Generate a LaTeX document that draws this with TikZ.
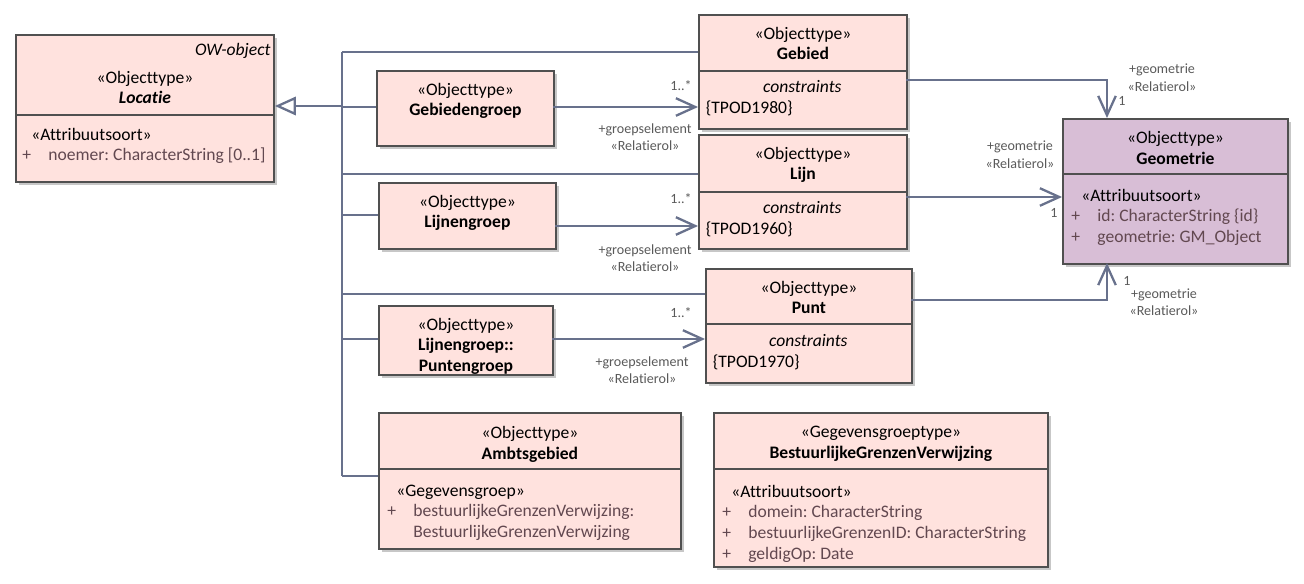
\documentclass[tikz,border=0pt]{standalone}
\usepackage{fontspec}
\setmainfont{Carlito}[Ligatures=NoCommon]
\usetikzlibrary{arrows.meta, shadows, positioning}

\definecolor{boxline}{RGB}{80,80,80}
\definecolor{pinkfill}{RGB}{255,226,222}
\definecolor{purplefill}{RGB}{216,190,214}
\definecolor{connline}{RGB}{104,113,140}
\definecolor{attrtext}{RGB}{98,72,80}
\definecolor{labeltext}{RGB}{90,90,90}

\newcommand{\attr}[1]{\textcolor{attrtext}{\makebox[0.52cm][l]{+}\mbox{#1}}}

\begin{document}
\frenchspacing
\begin{tikzpicture}[x=0.02cm, y=-0.02cm,
    % Styles
    classbox/.style={
        rectangle, draw=boxline, fill=pinkfill,
        line width=1.1pt, anchor=north west, inner sep=0pt,
        drop shadow={shadow xshift=0.06cm, shadow yshift=-0.06cm, fill=black!22, opacity=1}
    },
    txt/.style={
        inner sep=0pt, anchor=north, align=center,
        font=\fontsize{10}{11.8}\selectfont,
        execute at begin node=\strut
    },
    attrtxt/.style={txt, anchor=north west, align=left},
    conn/.style={line width=1.3pt, color=connline},
    assoc/.style={conn, -{Straight Barb[length=11pt, width=10pt]}},
    gen/.style={conn, -{Triangle[length=12pt, width=10.5pt, fill=white]}},
    lbl/.style={font=\fontsize{8}{10}\selectfont, text=labeltext, align=center, inner sep=0pt},
]
\useasboundingbox (0,0) rectangle (1304,584);

% Locatie
\node[classbox, minimum width=5.16cm, minimum height=1.6cm] (locatie) at (15,34) {};
\node[classbox, minimum width=5.16cm, minimum height=1.34cm] (locatieC) at (15,114) {};
\node[txt, anchor=north east, below left=0.13cm and 0.08cm of locatie.north east] (owobject) {\textit{OW-object}};
\node[txt, below=0.73cm of locatie.north] (locatieT) {«Objecttype»\\\textbf{\textit{Locatie}}};
\node[attrtxt, below right=0.27cm and 0.14cm of locatieC.north west] (locatieA)
    {\hspace*{0.18cm}«Attribuutsoort»\\\attr{noemer: CharacterString [0..1]}};

% Gebied, Lijn, Punt
\node[classbox, minimum width=4.16cm, minimum height=1.12cm] (gebied) at (698,14) {};
\node[classbox, minimum width=4.16cm, minimum height=1.16cm] (gebiedC) at (698,70) {};
\node[txt, below=0.25cm of gebied.north] (gebiedT) {«Objecttype»\\\textbf{Gebied}};
\node[attrtxt, text width=3.86cm, below right=0.16cm and 0.15cm of gebiedC.north west] (gebiedA)
    {\makebox[\hsize]{\textit{constraints}}\\\{TPOD1980\}};

\node[classbox, minimum width=4.16cm, minimum height=1.14cm] (lijn) at (698,134) {};
\node[classbox, minimum width=4.16cm, minimum height=1.14cm] (lijnC) at (698,191) {};
\node[txt, below=0.25cm of lijn.north] (lijnT) {«Objecttype»\\\textbf{Lijn}};
\node[attrtxt, text width=3.86cm, below right=0.16cm and 0.15cm of lijnC.north west] (lijnA)
    {\makebox[\hsize]{\textit{constraints}}\\\{TPOD1960\}};

\node[classbox, minimum width=4.12cm, minimum height=1.1cm] (punt) at (705,268) {};
\node[classbox, minimum width=4.12cm, minimum height=1.18cm] (puntC) at (705,323) {};
\node[txt, below=0.25cm of punt.north] (puntT) {«Objecttype»\\\textbf{Punt}};
\node[attrtxt, text width=3.82cm, below right=0.17cm and 0.15cm of puntC.north west] (puntA)
    {\makebox[\hsize]{\textit{constraints}}\\\{TPOD1970\}};

% Groepen
\node[classbox, minimum width=3.54cm, minimum height=1.5cm] (gebiedengroep) at (376,70) {};
\node[txt, below=0.25cm of gebiedengroep.north] (gebiedengroepT) {«Objecttype»\\\textbf{Gebiedengroep}};
\node[classbox, minimum width=3.54cm, minimum height=1.32cm] (lijnengroep) at (378,182) {};
\node[txt, below=0.25cm of lijnengroep.north] (lijnengroepT) {«Objecttype»\\\textbf{Lijnengroep}};
\node[classbox, minimum width=3.48cm, minimum height=1.38cm] (puntengroep) at (378,305) {};
\node[txt, below=0.25cm of puntengroep.north] (puntengroepT)
    {«Objecttype»\\\textbf{Lijnengroep::}\\\textbf{Puntengroep}};

% Ambtsgebied
\node[classbox, minimum width=6.04cm, minimum height=1.12cm] (ambtsgebied) at (378,412) {};
\node[classbox, minimum width=6.04cm, minimum height=1.6cm] (ambtsgebiedC) at (378,468) {};
\node[txt, below=0.28cm of ambtsgebied.north] (ambtsgebiedT) {«Objecttype»\\\textbf{Ambtsgebied}};
\node[attrtxt, below right=0.33cm and 0.18cm of ambtsgebiedC.north west] (ambtsgebiedA)
    {\hspace*{0.18cm}«Gegevensgroep»\\\attr{bestuurlijkeGrenzenVerwijzing:}\\
     \hspace*{0.52cm}\textcolor{attrtext}{BestuurlijkeGrenzenVerwijzing}};

% BestuurlijkeGrenzenVerwijzing
\node[classbox, minimum width=6.68cm, minimum height=1.12cm] (bgv) at (713,412) {};
\node[classbox, minimum width=6.68cm, minimum height=1.96cm] (bgvC) at (713,468) {};
\node[txt, below=0.28cm of bgv.north] (bgvT) {«Gegevensgroeptype»\\\textbf{BestuurlijkeGrenzenVerwijzing}};
\node[attrtxt, below right=0.33cm and 0.18cm of bgvC.north west] (bgvA)
    {\hspace*{0.18cm}«Attribuutsoort»\\\attr{domein: CharacterString}\\
     \attr{bestuurlijkeGrenzenID: CharacterString}\\\attr{geldigOp: Date}};

% Geometrie
\node[classbox, fill=purplefill, minimum width=4.5cm, minimum height=1.1cm] (geometrie) at (1062,118) {};
\node[classbox, fill=purplefill, minimum width=4.5cm, minimum height=1.8cm] (geometrieC) at (1062,173) {};
\node[txt, below=0.26cm of geometrie.north] (geometrieT) {«Objecttype»\\\textbf{Geometrie}};
\node[attrtxt, below right=0.31cm and 0.18cm of geometrieC.north west] (geometrieA)
    {\hspace*{0.2cm}«Attribuutsoort»\\\attr{id: CharacterString \{id\}}\\\attr{geometrie: GM\_Object}};

% Generalisatie
\coordinate (genTop) at (342,52);
\coordinate (genBot) at (342,476);
\coordinate (genJoin) at (342,106);
\draw[conn] (genTop) -- (genBot);
\draw[gen] (genJoin) -- (genJoin -| locatie.east);
\foreach \y/\n in {52/gebied, 107/gebiedengroep, 174/lijn, 215/lijnengroep, 294/punt, 339/puntengroep, 476/ambtsgebiedC} {
    \coordinate (j\n) at (342,\y);
    \draw[conn] (j\n) -- (j\n -| \n.west);
}

% Groepselement associaties
\coordinate (aGebied) at (553,107);
\coordinate (aLijn) at (555,226);
\coordinate (aPunt) at (552,339);
\draw[assoc] (aGebied) -- (aGebied -| gebiedC.west);
\draw[assoc] (aLijn) -- (aLijn -| lijnC.west);
\draw[assoc] (aPunt) -- (aPunt -| puntC.west);

\node[lbl, anchor=east] (m1) at (692,86) {1..*};
\node[lbl] (r1) at (645,137) {+groepselement\\«Relatierol»};
\node[lbl, anchor=east] (m2) at (692,199) {1..*};
\node[lbl] (r2) at (645,258) {+groepselement\\«Relatierol»};
\node[lbl, anchor=east] (m3) at (692,313) {1..*};
\node[lbl] (r3) at (642,370) {+groepselement\\«Relatierol»};

% Geometrie associaties
\coordinate (gOut) at (906,80);
\coordinate (gIn) at (1107,118);
\coordinate (lOut) at (906,197);
\coordinate (pOut) at (911,300);
\coordinate (pIn) at (1107,263);
\draw[assoc] (gOut) -| (gIn);
\draw[assoc] (lOut) -- (lOut -| geometrieC.west);
\draw[assoc] (pOut) -| (pIn);

\node[lbl] (g1) at (1162,78) {+geometrie\\«Relatierol»};
\node[lbl] (n1) at (1122,101) {1};
\node[lbl] (g2) at (1020,155) {+geometrie\\«Relatierol»};
\node[lbl] (n2) at (1054,213) {1};
\node[lbl] (g3) at (1164,302) {+geometrie\\«Relatierol»};
\node[lbl] (n3) at (1127,281) {1};

\end{tikzpicture}
\end{document}
